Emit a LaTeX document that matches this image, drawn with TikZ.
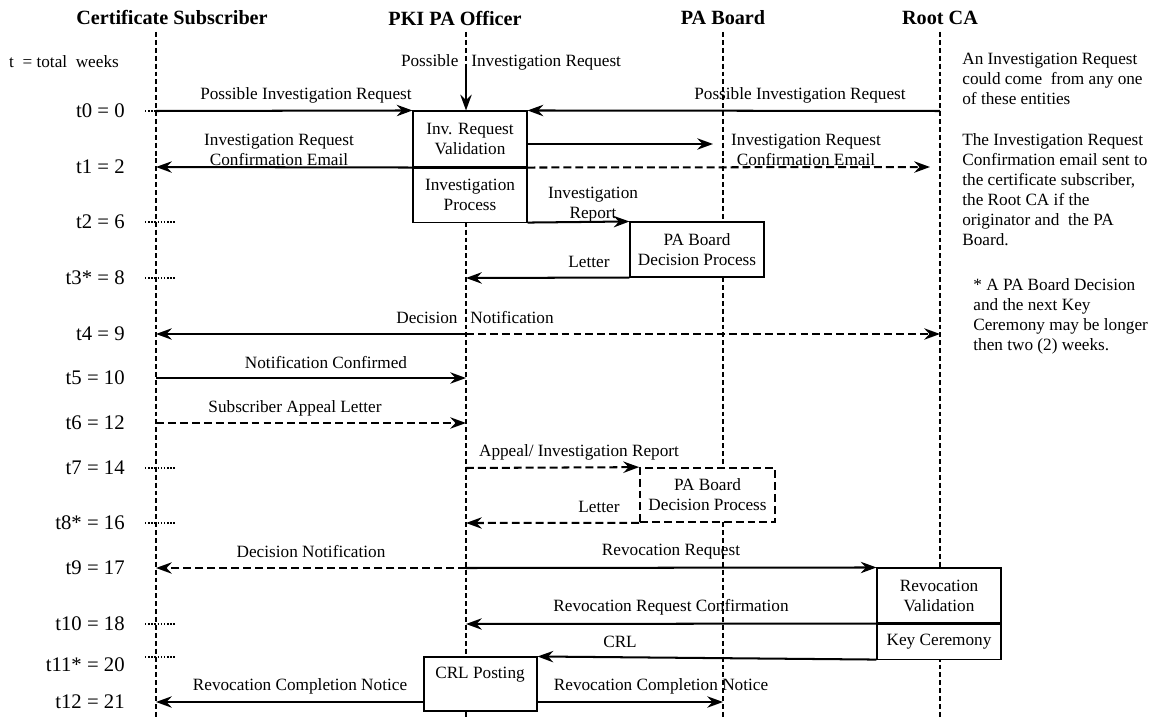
\documentclass[tikz,border=0pt]{standalone}
\usepackage{fontspec}
\setmainfont{Liberation Serif}
\usetikzlibrary{arrows.meta, positioning}

\begin{document}
\begin{tikzpicture}[x=0.02cm, y=-0.02cm,
    every node/.style={font=\fontsize{9.8}{11.4}\selectfont},
    head/.style={font=\fontsize{11.5}{13}\selectfont\bfseries},
    tlab/.style={anchor=east, inner sep=0pt, font=\fontsize{11.8}{13}\selectfont},
    life/.style={line width=0.8pt, dash pattern=on 2.8pt off 1.7pt},
    tickln/.style={line width=0.8pt, densely dotted},
    msg/.style={line width=1.15pt, -{Stealth[length=9pt, width=6.5pt, inset=3pt]}},
    msgd/.style={msg, dash pattern=on 4.5pt off 2.3pt},
    proc/.style={draw, fill=white, line width=0.6pt, align=center, inner sep=0pt},
    lbl/.style={align=center, inner sep=0pt},
    note/.style={align=left, anchor=north west, inner sep=0pt}]

    \useasboundingbox (0,0) rectangle (1162,719);

    % entities
    \node[head] (cs) at (172,18) {Certificate Subscriber};
    \node[head] (po) at (455,18) {PKI PA Officer};
    \node[head] (pb) at (723,18) {PA Board};
    \node[head] (rc) at (940,18) {Root CA};

    % lifelines and one point per time row
    \foreach \name/\x in {cs/156, po/466, pb/723, rc/940}{
      \coordinate (\name-top) at (\x,32);
      \coordinate (\name-bot) at (\x,719);
      \draw[life] (\name-top) -- (\name-bot);
      \foreach \n/\y in {0/111, 1/167, 2/222, 3/278, 4/334, 5/378, 6/423,
                         7/468, 8/523, 9/568, 10/624, 11/657, 12/702}
        \coordinate (\name\n) at (\x,\y);
    }

    % time scale
    \node[inner sep=0pt] (tw) at (64,62) {t\ \ = total\ \ weeks};
    \foreach \n/\y/\txt in {0/111/t0 = 0, 1/167/t1 = 2, 2/222/t2 = 6,
        3/278/t3* = 8, 4/334/t4 = 9, 5/378/t5 = 10, 6/423/t6 = 12,
        7/468/t7 = 14, 8/523/t8* = 16, 9/568/t9 = 17, 10/624/t10 = 18,
        11/665/t11* = 20, 12/702/t12 = 21}
      \node[tlab] (tl\n) at (125,\y) {\txt};
    \foreach \n in {0,2,3,7,8,10,11}
      \draw[tickln] ([xshift=-0.22cm]cs\n) -- ([xshift=0.38cm]cs\n);

    % process boxes
    \node[proc, minimum width=2.28cm, minimum height=1.12cm] (val) at (470,139)
      {Inv. Request\\Validation};
    \node[proc, minimum width=2.28cm, minimum height=1.08cm,
      below=0pt of val] (inv) {Investigation\\Process};
    \node[proc, minimum width=2.68cm, minimum height=1.1cm] (dec) at (697,249.5)
      {PA Board\\Decision Process};
    \node[proc, line width=1pt, dash pattern=on 4.5pt off 2.3pt,
      minimum width=2.7cm, minimum height=1.08cm] (dec2) at (707.5,495)
      {PA Board\\Decision Process};
    \node[proc, minimum width=2.48cm, minimum height=1.1cm] (rev) at (939,595.5)
      {Revocation\\Validation};
    \node[proc, minimum width=2.48cm, minimum height=0.7cm,
      below=0pt of rev] (key) {Key Ceremony};
    \node[proc, minimum width=2.26cm, minimum height=1.08cm] (crl) at (480.5,684) {};
    \node[lbl] (crltxt) at (480,675) {CRL Posting};

    % messages
    \coordinate (pin) at (466,66);
    \coordinate (pbconf) at (713,144);
    \draw[msg] (cs0) -- (val.north west);
    \draw[msg] (pin) -- (pin |- val.north);
    \draw[msg] (rc0) -- (val.north east);
    \draw[msg] (val.east |- pbconf) -- (pbconf);
    \draw[msg] (val.south west) -- (cs1);
    \draw[msgd, shorten >=0.2cm] (val.south east) -- (rc1);
    \draw[msg] (inv.south east) -- (dec.north west);
    \draw[msg] (dec.south west) -- (po3);
    \draw[msg] (po4) -- (cs4);
    \draw[msgd] (po4) -- (rc4);
    \draw[msg] (cs5) -- (po5);
    \draw[msgd] (cs6) -- (po6);
    \draw[msgd] (po7) -- (dec2.north west);
    \draw[msgd] (dec2.south west) -- (po8);
    \draw[msgd] (po9) -- (cs9);
    \draw[msg] (po9) -- (rev.north west);
    \draw[msg] (rev.south west) -- (po10);
    \draw[msg] (key.south west) -- (crl.north east);
    \draw[msg] (crl.west |- cs12) -- (cs12);
    \draw[msg] (crl.east |- pb12) -- (pb12);

    % message labels
    \node[lbl] (lreq) at (306,95) {Possible Investigation Request};
    \node[lbl] (ltop) at (511,62) {Possible\ \ \ Investigation Request};
    \node[lbl] (lreqr) at (800,95) {Possible Investigation Request};
    \node[lbl] (lconf) at (279,149.5) {Investigation Request\\Confirmation Email};
    \node[lbl] (lconfr) at (806,149.5) {Investigation Request\\Confirmation Email};
    \node[lbl] (lrep) at (593,205) {Investigation\\Report};
    \node[lbl] (llet) at (589,262) {Letter};
    \node[lbl] (ldec) at (475,318) {Decision\ \ \ Notification};
    \node[lbl] (lnot) at (326,363) {Notification Confirmed};
    \node[lbl] (lapl) at (295,408) {Subscriber Appeal Letter};
    \node[lbl] (lapr) at (579,452) {Appeal/ Investigation Report};
    \node[lbl] (llet2) at (599,507) {Letter};
    \node[lbl] (ldec2) at (311,552) {Decision Notification};
    \node[lbl] (lrvq) at (671,552) {Revocation Request};
    \node[lbl] (lrvc) at (671,607) {Revocation Request Confirmation};
    \node[lbl] (lcrl) at (620,642) {CRL};
    \node[lbl] (lcpl) at (300,686) {Revocation Completion Notice};
    \node[lbl] (lcpr) at (661,686) {Revocation Completion Notice};

    % notes
    \node[note] (n1) at (962,53)
      {An Investigation Request\\could come\ \ from any one\\of these entities};
    \node[note] (n2) at (962,133)
      {The Investigation Request\\Confirmation email sent to\\the certificate subscriber,\\the Root CA if the\\originator and\ \ the PA\\Board.};
    \node[note] (n3) at (973,278)
      {* A PA Board Decision\\and the next Key\\Ceremony may be longer\\then two (2) weeks.};
\end{tikzpicture}
\end{document}
